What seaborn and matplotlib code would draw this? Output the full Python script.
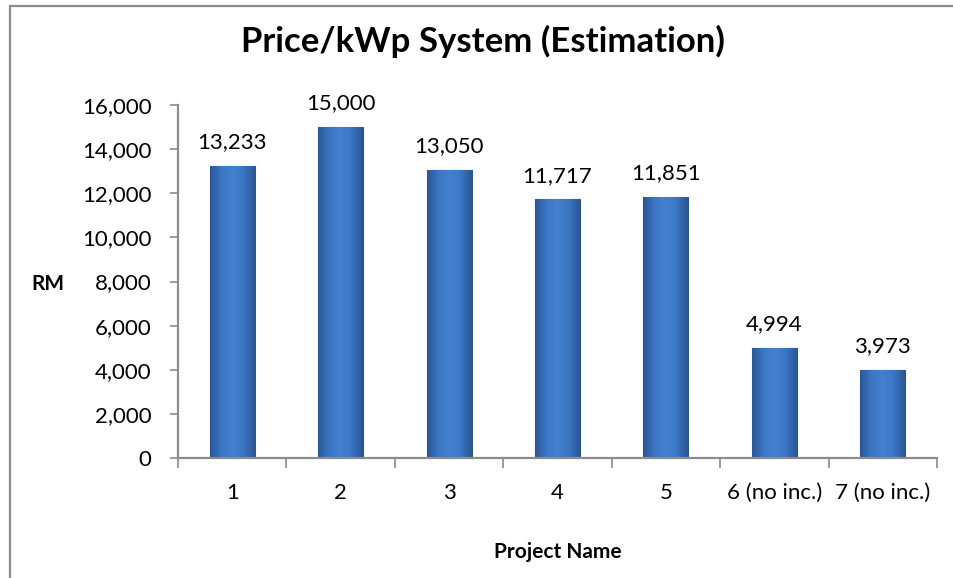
import numpy as np
import pandas as pd
import matplotlib
matplotlib.use("Agg")
import matplotlib.pyplot as plt
import seaborn as sns
from matplotlib.colors import LinearSegmentedColormap
from matplotlib.patches import Rectangle

# ---- data ----
projects = ["1", "2", "3", "4", "5", "6 (no inc.)", "7 (no inc.)"]
price = [13233, 15000, 13050, 11717, 11851, 4994, 3973]
yticks = [0, 2000, 4000, 6000, 8000, 10000, 12000, 14000, 16000]
title = "Price/kWp System (Estimation)"
ylabel = "RM"
xlabel = "Project Name"

sns.set_theme(style="white")
plt.rcParams["font.family"] = ["Lato", "DejaVu Sans"]

fig = plt.figure(figsize=(9.54, 5.78), dpi=100)
fig.patch.set_facecolor("white")
ax = fig.add_axes([178 / 954, 1 - 458 / 578, (937 - 178) / 954, (458 - 105) / 578])

df = pd.DataFrame({"Project": projects, "Price": price})
sns.barplot(data=df, x="Project", y="Price", ax=ax, color="#3a74c2",
            saturation=1, width=0.415, edgecolor="#2a5590", linewidth=0.8)

# bevel-like gradient fill clipped to each bar
cmap = LinearSegmentedColormap.from_list(
    "bev", ["#2b5894", "#3b76c4", "#4481cf", "#3b76c4", "#2b5894"])
grad = np.linspace(0, 1, 64).reshape(1, -1)
for p in list(ax.patches):
    x0, y0, w, h = p.get_x(), p.get_y(), p.get_width(), p.get_height()
    im = ax.imshow(grad, extent=[x0, x0 + w, y0, y0 + h], aspect="auto",
                   cmap=cmap, zorder=p.get_zorder() + 0.1, interpolation="bicubic")
    im.set_clip_path(p)

ax.set_xlim(-0.5, len(projects) - 0.5)
ax.set_ylim(0, 16000)
ax.set_yticks(yticks)
ax.set_yticklabels([f"{v:,}" for v in yticks])

# data labels
ax.bar_label(ax.containers[0], labels=[f"{v:,}" for v in price],
             padding=10, fontsize=16, color="black")

# spines & ticks
for s in ["top", "right"]:
    ax.spines[s].set_visible(False)
for s in ["left", "bottom"]:
    ax.spines[s].set_color("#8c8c8c")
    ax.spines[s].set_linewidth(1.6)
    ax.spines[s].set_zorder(5)

ax.tick_params(axis="y", which="major", direction="out", length=6, width=1.2,
               color="#8c8c8c", labelsize=16, pad=13, left=True)
ax.tick_params(axis="x", which="major", length=0, labelsize=16, pad=18)
ax.set_xticks(np.arange(-0.5, len(projects), 1.0), minor=True)
ax.tick_params(axis="x", which="minor", direction="out", length=7, width=1.2,
               color="#8c8c8c", bottom=True)
for lab in ax.get_xticklabels() + ax.get_yticklabels():
    lab.set_color("black")

ax.set_xlabel("")
ax.set_ylabel("")
ax.grid(False)

fig.text(483 / 954, 1 - 52 / 578, title, ha="center", va="baseline",
         fontsize=25, fontweight="bold", color="black")
fig.text(48 / 954, 1 - 290 / 578, ylabel, ha="center", va="baseline",
         fontsize=15, fontweight="bold", color="black")
fig.text(558 / 954, 1 - 558 / 578, xlabel, ha="center", va="baseline",
         fontsize=15, fontweight="bold", color="black")

# outer chart frame
top = 1 - 6 / 578
fig.patches.append(Rectangle((10 / 954, -0.2), 1.2, top + 0.2,
                             transform=fig.transFigure, fill=False,
                             edgecolor="#8c8c8c", linewidth=1.6))

fig.savefig("out.png", dpi=100)
